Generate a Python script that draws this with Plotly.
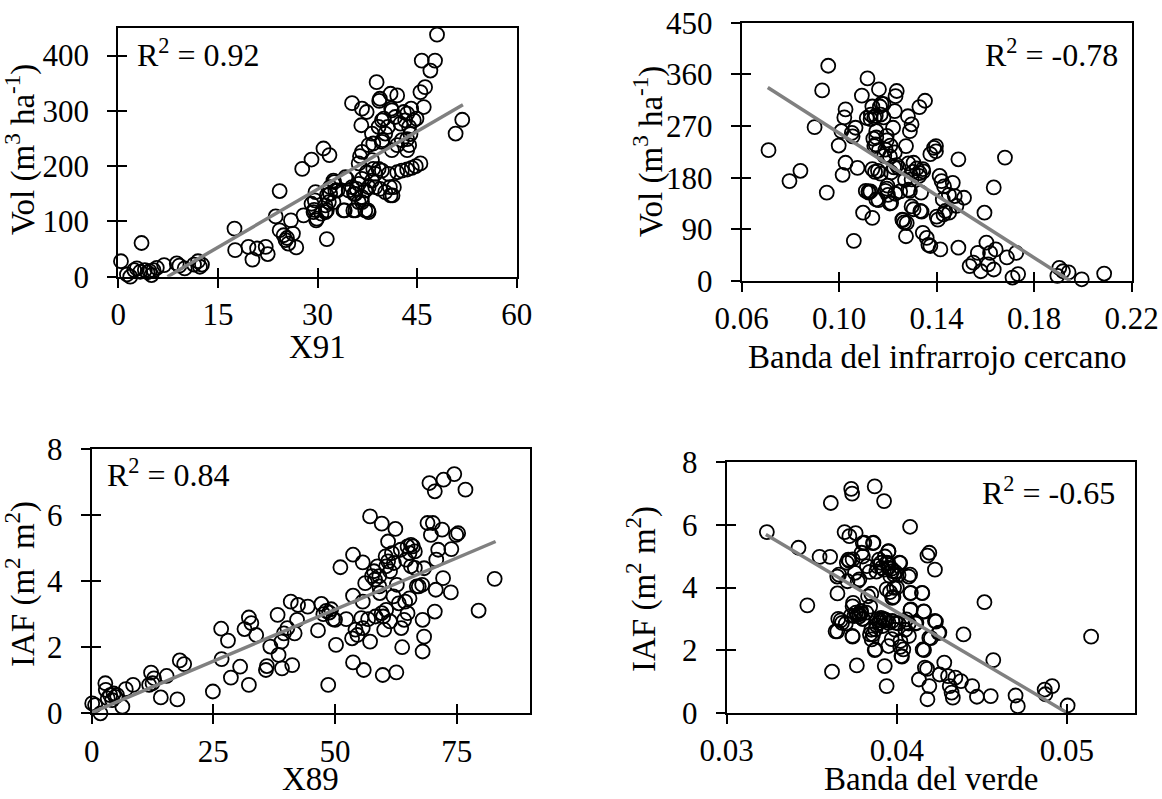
import plotly.graph_objects as go

W, H = 1162, 799
FONT = "'Liberation Serif', 'Times New Roman', 'DejaVu Serif', serif"

# ---- Panel A: Vol vs X91 ----
a_x = [0.4, 1.3, 1.8, 2.4, 2.8, 3.5, 3.3, 4.0, 4.4, 4.7, 5.0, 5.3, 5.8, 6.9, 8.8, 9.2, 10.0, 11.4, 12.0, 12.3, 12.6,
       17.5, 17.6, 19.6, 20.2, 20.9, 22.2, 22.5, 24.3, 23.7, 24.3, 24.9, 25.2, 25.6, 26.3, 26.8, 26.0, 25.4, 27.7,
       29.1, 30.9, 31.8, 31.4, 27.9, 29.1, 29.5, 29.7, 29.8, 30.6, 31.4, 31.4, 31.9, 32.5, 33.0, 34.1, 34.4,
       32.4, 32.7, 31.9, 31.7, 31.2, 29.6, 29.4, 29.9, 31.2, 32.4,
       35.2, 36.7, 37.4, 36.6, 38.9, 39.4, 39.3, 41.0, 42.0, 41.2, 41.7, 43.0, 43.5, 43.2, 42.5, 43.8, 44.5, 44.0,
       43.5, 42.7, 41.2, 42.0, 43.5, 43.8, 39.7, 39.2, 38.2, 36.7, 36.4, 36.2, 37.7, 39.7, 40.2, 46.0, 45.5, 46.2,
       47.0, 45.7, 47.7, 48.0, 51.8, 50.8, 40.0, 40.6, 41.1, 44.1, 44.9, 38.4, 39.8,
       42.0, 42.7, 43.5, 44.2, 44.8, 45.5, 39.7, 40.7, 41.5, 41.0, 40.2, 39.4, 38.7, 38.2, 37.7, 37.2, 36.7, 35.7,
       35.2, 34.7, 34.2, 33.9, 35.4, 37.2, 37.7, 36.2, 36.7, 38.7, 38.4, 39.2, 38.2, 37.4, 36.7, 36.2, 35.9, 37.6,
       35.5, 35.7, 40.9, 41.3]
a_y = [28, 4, 0, 12, 15, 61, 9, 12, 8, 10, 3, 12, 16, 21, 24, 20, 15, 22, 28, 18, 22,
       87, 48, 54, 31, 51, 54, 41, 155, 109, 84, 75, 66, 60, 78, 53, 102, 70, 195,
       212, 232, 220, 68, 111, 132, 121, 153, 102, 114, 120, 147, 162, 171, 156, 120, 177,
       174, 156, 150, 135, 129, 138, 117, 105, 117, 135,
       314, 304, 298, 274, 352, 322, 318, 331, 328, 301, 289, 298, 295, 283, 277, 271, 283, 258,
       249, 247, 229, 238, 229, 238, 283, 271, 259, 226, 218, 205, 238, 244, 259, 307, 334, 343,
       373, 391, 391, 438, 284, 259, 286, 271, 304, 304, 286, 241, 247,
       189, 192, 194, 197, 200, 205, 192, 186, 162, 147, 153, 159, 186, 174, 162, 156, 144, 150,
       162, 156, 180, 120, 120, 120, 117, 135, 135, 162, 195, 195, 211, 189, 177, 168, 159, 120,
       150, 120, 162, 147]
a_fit_x = [7.4, 51.9]
a_fit_y = [0, 311]

# ---- Panel B: Vol vs near-infrared band ----
b_x = [0.0710, 0.0796, 0.0841, 0.0899, 0.0930, 0.0955, 0.0949, 0.0998, 0.1009, 0.1021, 0.1026, 0.1026, 0.1014,
       0.1060, 0.1052, 0.1067, 0.1075, 0.1093, 0.1098, 0.1116, 0.1109, 0.1121, 0.1136, 0.1136, 0.1144, 0.1136,
       0.1129, 0.1152, 0.1159, 0.1163, 0.1167, 0.1152, 0.1152, 0.1144, 0.1182, 0.1182, 0.1195, 0.1190, 0.1198,
       0.1190, 0.1213, 0.1213, 0.1221, 0.1228, 0.1231, 0.1236, 0.1228, 0.1244, 0.1259, 0.1267, 0.1274, 0.1274,
       0.1282, 0.1290, 0.1297, 0.1290, 0.1297, 0.1305, 0.1305, 0.1329, 0.1352, 0.1328, 0.1336, 0.1333, 0.1343,
       0.1343, 0.1359, 0.1374, 0.1374, 0.1389, 0.1397, 0.1397, 0.1405, 0.1415, 0.1412, 0.1420, 0.1425, 0.1428,
       0.1435, 0.1451, 0.1466, 0.1474, 0.1481, 0.1489, 0.1489, 0.1512, 0.1535, 0.1550, 0.1569, 0.1581, 0.1596,
       0.1604, 0.1611, 0.1619, 0.1634, 0.1642, 0.1634, 0.1680, 0.1688, 0.1711, 0.1726, 0.1734, 0.1895, 0.1903,
       0.1918, 0.1941, 0.1995, 0.2087,
       0.1174, 0.1113, 0.1130, 0.1150, 0.1170, 0.1055, 0.1140, 0.1150, 0.1163, 0.1195, 0.1210, 0.1185, 0.1208,
       0.1236, 0.1225, 0.1284, 0.1302, 0.1318, 0.1330, 0.1345, 0.1270, 0.1284, 0.1250, 0.1230, 0.1195, 0.1200,
       0.1147, 0.1170, 0.1120, 0.1128, 0.1161, 0.1208, 0.1261, 0.1277, 0.1338, 0.1297, 0.1366, 0.1400, 0.1430,
       0.1450]
b_y = [228, 174, 192, 268, 332, 375, 154, 236, 261, 285, 299, 206, 185,
       70, 258, 267, 197, 323, 119, 353, 157, 154, 110, 195, 285, 304,
       282, 142, 192, 334, 304, 261, 250, 235, 308, 285, 253, 229, 166,
       157, 136, 189, 267, 224, 322, 331, 296, 197, 107, 102, 78, 235,
       287, 157, 177, 261, 273, 206, 125, 303, 314, 183, 154, 122, 195,
       84, 75, 61, 221, 232, 235, 226, 107, 55, 183, 174, 142, 116,
       122, 119, 171, 148, 131, 212, 58, 145, 26, 32, 49, 17, 119,
       67, 29, 49, 163, 55, 20, 215, 41, 6, 49, 12, 9, 23,
       17, 15, 3, 13,
       309, 284, 290, 288, 290, 252, 248, 238, 228, 245, 236, 218, 217,
       202, 198, 205, 190, 196, 188, 191, 176, 159, 156, 152, 161, 150,
       190, 187, 156, 156, 141, 135, 106, 101, 121, 130, 63, 112, 165,
       150]
b_fit_x = [0.0707, 0.1949]
b_fit_y = [337, 0]

# ---- Panel C: IAF vs X89 ----
c_x = [0.1, 0.7, 1.8, 2.8, 2.9, 3.3, 3.8, 4.5, 4.9, 5.2, 4.2, 6.3, 7.0, 8.5, 12.2, 12.5, 11.8, 12.8, 14.2, 15.4,
       17.6, 18.1, 19.0, 24.9, 26.6, 26.7, 28.0, 28.6, 30.5, 31.4, 32.3, 32.8, 32.3, 33.8, 35.8, 36.0, 36.7, 38.2,
       38.4, 39.0, 39.1, 39.5, 40.2, 40.9, 41.2, 41.7, 42.2, 42.4, 44.4, 46.5, 47.2, 48.6, 47.6, 48.2, 48.8, 49.2,
       49.6, 50.0, 50.2, 51.1, 52.3, 53.5, 53.7, 53.7, 53.7, 54.2, 54.6, 55.4, 55.7, 55.7, 55.9, 56.2, 55.7, 56.8,
       57.2, 57.2, 57.6, 58.0, 58.2, 58.7, 59.1, 59.1, 58.3, 59.2, 59.6, 59.6, 59.8, 59.9, 60.1, 60.4, 60.5, 60.9,
       60.9, 61.3, 61.7, 62.1, 60.5, 61.3, 62.0, 62.4, 62.6, 62.7, 63.1, 63.5, 63.6, 63.8, 64.2, 64.4, 64.6, 64.9,
       64.9, 65.3, 65.6, 66.0, 66.4, 65.6, 66.4, 65.3, 66.8, 67.2, 67.9, 68.3, 68.0, 68.3, 68.0, 69.0, 69.4, 69.7,
       70.1, 70.5, 70.5, 70.7, 70.8, 71.2, 72.0, 72.2, 72.3, 73.8, 73.9, 74.5, 74.9, 75.3, 76.8, 79.5, 82.8]
c_y = [0.30, 0.25, 0.0, 0.91, 0.71, 0.45, 0.55, 0.60, 0.50, 0.55, 0.40, 0.20, 0.73, 0.86, 1.23, 0.91, 0.86, 1.06,
       0.48, 1.13, 0.42, 1.60, 1.49, 0.66, 2.56, 1.64, 2.20, 1.08, 1.41, 2.55, 2.90, 2.73, 0.86, 2.37, 1.31, 1.43,
       2.02, 2.98, 1.77, 2.17, 1.36, 2.42, 2.58, 3.38, 1.46, 2.42, 2.83, 3.28, 3.23, 2.51, 3.31, 0.86, 3.00, 3.10,
       3.05, 3.15, 2.85, 2.83, 2.07, 4.42, 2.85, 2.27, 1.54, 3.56, 4.80, 2.53, 2.37, 2.88, 2.58, 4.57, 1.31, 3.94,
       3.38, 2.85, 2.17, 5.96, 4.15, 4.30, 4.05, 4.45, 4.15, 3.84, 2.93, 3.64, 5.74, 3.03, 1.16, 2.93, 2.53, 4.75,
       4.45, 5.20, 4.60, 4.30, 4.85, 4.55, 3.13, 2.78, 3.54, 5.58, 1.24, 3.89, 3.33, 4.95, 2.58, 2.00, 2.83, 3.38,
       4.65, 5.05, 3.03, 4.85, 5.10, 5.05, 4.90, 4.45, 4.40, 3.48, 3.84, 3.84, 3.89, 4.39, 2.83, 2.32, 1.87, 5.76,
       6.97, 5.40, 5.76, 6.72, 3.08, 3.74, 4.65, 4.95, 5.56, 4.09, 7.07, 3.66, 4.97, 7.24, 5.40, 5.45, 6.77, 3.11,
       4.07]
c_fit_x = [0.0, 83.0]
c_fit_y = [0.02, 5.2]

# ---- Panel D: IAF vs green band ----
d_x = [0.03236, 0.03422, 0.03474, 0.03546, 0.03608, 0.03612, 0.03619, 0.03640, 0.03651, 0.03656, 0.03660,
       0.03678, 0.03693, 0.03706, 0.03715, 0.03721, 0.03732, 0.03737, 0.03739, 0.03743, 0.03750, 0.03758,
       0.03765, 0.03754, 0.03770, 0.03780, 0.03790, 0.03800, 0.03780, 0.03793, 0.03809, 0.03824, 0.03831,
       0.03842, 0.03852, 0.03863, 0.03870, 0.03874, 0.03874, 0.03880, 0.03885, 0.03896, 0.03907, 0.03911,
       0.03924, 0.03940, 0.03951, 0.03962, 0.03973, 0.03984, 0.03885, 0.03896, 0.03907, 0.03918, 0.03929,
       0.03951, 0.03973, 0.03995, 0.03925, 0.03929, 0.03940, 0.03951, 0.03951, 0.03973, 0.03984, 0.04016,
       0.04021, 0.04027, 0.04038, 0.04056, 0.04071, 0.04078, 0.04078, 0.04082, 0.04082, 0.04115, 0.04130,
       0.04148, 0.04152, 0.04158, 0.04165, 0.04178, 0.04180, 0.04191, 0.04180, 0.04191, 0.04191, 0.04224,
       0.04224, 0.04246, 0.04252, 0.04279, 0.04301, 0.04311, 0.04322, 0.04329, 0.04344, 0.04377, 0.04392,
       0.04443, 0.04471, 0.04515, 0.04552, 0.04567, 0.04698, 0.04711, 0.04869, 0.04873, 0.04913, 0.05004,
       0.05142,
       0.0380, 0.0386, 0.0395, 0.0372, 0.0374, 0.0380, 0.0365, 0.0371, 0.0377, 0.0384, 0.0393, 0.0395, 0.0397,
       0.0399, 0.0401, 0.0402, 0.0407, 0.0415, 0.0408, 0.0385, 0.0394, 0.0396, 0.0398, 0.0400, 0.0374, 0.0376,
       0.0379, 0.0382, 0.03843, 0.0408, 0.0416, 0.0423, 0.0425, 0.0420, 0.0416, 0.0402, 0.0403, 0.0397, 0.0399,
       0.0401, 0.0405, 0.0407, 0.0411, 0.0387, 0.0385, 0.0386, 0.0388, 0.0390, 0.0392, 0.0394, 0.0374, 0.0365,
       0.0367, 0.0370, 0.0373, 0.0378, 0.0380]
d_y = [5.77, 5.27, 3.43, 4.98, 4.98, 6.70, 1.31, 2.60, 3.81, 3.00, 4.41,
       2.87, 5.77, 4.79, 4.89, 5.64, 7.15, 7.00, 2.45, 3.51, 3.09, 5.74,
       1.51, 4.47, 3.13, 3.08, 3.18, 3.00, 4.26, 5.11, 5.43, 4.68, 3.72,
       2.50, 2.34, 5.43, 7.23, 2.02, 2.66, 4.51, 4.68, 4.89, 4.79, 4.63,
       4.57, 4.79, 4.63, 4.36, 4.52, 4.41, 2.98, 2.87, 3.03, 2.77, 2.98,
       2.87, 2.93, 2.87, 6.76, 1.49, 0.85, 5.16, 2.13, 3.67, 3.99, 4.79,
       2.29, 1.81, 2.02, 2.98, 2.45, 5.94, 4.41, 3.83, 3.30, 2.87, 1.06,
       3.83, 2.02, 3.24, 1.44, 1.40, 5.02, 5.11, 0.43, 0.85, 2.39, 4.57,
       2.93, 2.55, 1.22, 1.60, 1.17, 0.85, 0.64, 0.48, 1.12, 1.01, 2.50,
       0.85, 0.51, 3.53, 0.53, 1.68, 0.55, 0.21, 0.74, 0.59, 0.85, 0.23,
       2.43,
       5.42, 5.42, 5.15, 4.85, 4.90, 4.99, 4.35, 4.20, 4.20, 4.50, 4.99, 4.78, 4.60,
       4.50, 4.40, 4.78, 4.35, 3.82, 3.82, 3.80, 3.95, 3.85, 3.70, 4.00, 3.40, 3.20,
       3.25, 3.20, 3.39, 3.28, 3.23, 2.91, 2.56, 2.38, 2.00, 2.10, 1.79, 2.35, 2.65,
       2.85, 2.65, 2.85, 2.85, 2.00, 2.65, 2.50, 2.80, 2.95, 3.00, 2.95, 2.43, 2.60,
       2.95, 2.85, 3.10, 3.15, 3.00]
d_fit_x = [0.0323, 0.0500]
d_fit_y = [5.69, 0.0]

# Axis settings: ranges and tick values
a_xrange, a_xticks = [0, 60], [0, 15, 30, 45, 60]
a_yrange, a_yticks = [0, 450], [0, 100, 200, 300, 400]
b_xrange, b_xticks = [0.06, 0.22], [0.06, 0.10, 0.14, 0.18, 0.22]
b_yrange, b_yticks = [0, 450], [0, 90, 180, 270, 360, 450]
c_xrange, c_xticks = [0, 90], [0, 25, 50, 75]
c_yrange, c_yticks = [0, 8], [0, 2, 4, 6, 8]
d_xrange, d_xticks = [0.03, 0.054], [0.03, 0.04, 0.05]
d_yrange, d_yticks = [0, 8], [0, 2, 4, 6, 8]

x_titles = ["X91", "Banda del infrarrojo cercano", "X89", "Banda del verde"]
y_titles = ["Vol (m<sup>3</sup> ha<sup>-1</sup>)", "Vol (m<sup>3</sup> ha<sup>-1</sup>)",
            "IAF (m<sup>2</sup> m<sup>2</sup>)", "IAF (m<sup>2</sup> m<sup>2</sup>)"]
r2_labels = ["R<sup>2</sup> = 0.92", "R<sup>2</sup> = -0.78", "R<sup>2</sup> = 0.84", "R<sup>2</sup> = -0.65"]


def fx(px):
    return px / W


def fy(py):
    return 1 - py / H


# plot boxes in pixels: left, right, top, bottom
boxes = [
    (118.3, 516.7, 28.0, 276.7),
    (741.7, 1131.7, 22.7, 281.0),
    (91.7, 529.7, 449.0, 713.3),
    (726.7, 1135.0, 462.3, 712.7),
]

panels = [
    (a_x, a_y, a_fit_x, a_fit_y, a_xrange, a_xticks, a_yrange, a_yticks, None),
    (b_x, b_y, b_fit_x, b_fit_y, b_xrange, b_xticks, b_yrange, b_yticks, ".2f"),
    (c_x, c_y, c_fit_x, c_fit_y, c_xrange, c_xticks, c_yrange, c_yticks, None),
    (d_x, d_y, d_fit_x, d_fit_y, d_xrange, d_xticks, d_yrange, d_yticks, ".2f"),
]

tick_font = dict(family=FONT, size=31, color="black")
title_font = dict(family=FONT, size=33, color="black")
r2_font = dict(family=FONT, size=32, color="black")

fig = go.Figure()
layout = {}
annotations = []

# label positions (pixels)
xtitle_pos = [(317.5, 347), (937, 357), (310.7, 779), (931, 779)]
ytitle_pos = [(20, 150), (648, 152), (20, 584), (641, 589)]
r2_pos = [(135, 53, "left"), (1120, 53, "right"), (105, 473, "left"), (1117, 491, "right")]

for i, (xs, ys, fxs, fys, xr, xt, yr, yt, xfmt) in enumerate(panels):
    n = i + 1
    xa = "x" if n == 1 else f"x{n}"
    ya = "y" if n == 1 else f"y{n}"
    l, r, t, b = boxes[i]

    fig.add_trace(go.Scatter(
        x=xs, y=ys, mode="markers", xaxis=xa, yaxis=ya, cliponaxis=False, showlegend=False,
        marker=dict(symbol="circle-open", size=14, color="black", line=dict(width=1.8)),
    ))
    fig.add_trace(go.Scatter(
        x=fxs, y=fys, mode="lines", xaxis=xa, yaxis=ya, showlegend=False,
        line=dict(color="#808080", width=3.5),
    ))

    common = dict(showline=True, linecolor="black", linewidth=2, mirror=True,
                  ticks="outside", ticklen=9, tickwidth=2, tickcolor="black",
                  showgrid=False, zeroline=False, tickfont=tick_font, automargin=False)
    layout[f"xaxis{'' if n == 1 else n}"] = dict(
        common, domain=[fx(l), fx(r)], anchor=ya, range=xr, tickvals=xt,
        tickformat=xfmt, ticklabelstandoff=0)
    layout[f"yaxis{'' if n == 1 else n}"] = dict(
        common, domain=[fy(b), fy(t)], anchor=xa, range=yr, tickvals=yt, ticklabelstandoff=12)

    # companion axes drawing the inner half of each tick mark
    m = n + 4
    inner = dict(ticks="inside", ticklen=9, tickwidth=2, tickcolor="black", showticklabels=False,
                 showline=False, showgrid=False, zeroline=False)
    layout[f"xaxis{m}"] = dict(inner, overlaying=xa, anchor=ya, range=xr, tickvals=xt, side="bottom")
    layout[f"yaxis{m}"] = dict(inner, overlaying=ya, anchor=xa, range=yr, tickvals=yt, side="left")
    fig.add_trace(go.Scatter(x=[], y=[], xaxis=f"x{m}", yaxis=f"y{m}", mode="lines",
                             showlegend=False, hoverinfo="skip"))

    px_, py_ = xtitle_pos[i]
    annotations.append(dict(text=x_titles[i], x=fx(px_), y=fy(py_), xref="paper", yref="paper",
                            xanchor="center", yanchor="middle", showarrow=False, font=title_font))
    px_, py_ = ytitle_pos[i]
    annotations.append(dict(text=y_titles[i], x=fx(px_), y=fy(py_), xref="paper", yref="paper",
                            xanchor="center", yanchor="middle", textangle=-90, showarrow=False,
                            font=title_font))
    px_, py_, anc = r2_pos[i]
    annotations.append(dict(text=r2_labels[i], x=fx(px_), y=fy(py_), xref="paper", yref="paper",
                            xanchor=anc, yanchor="middle", showarrow=False, font=r2_font))

fig.update_layout(
    width=W, height=H,
    margin=dict(l=0, r=0, t=0, b=0),
    paper_bgcolor="white", plot_bgcolor="white",
    font=dict(family=FONT),
    annotations=annotations,
    **layout,
)

fig.write_html("out.html")
